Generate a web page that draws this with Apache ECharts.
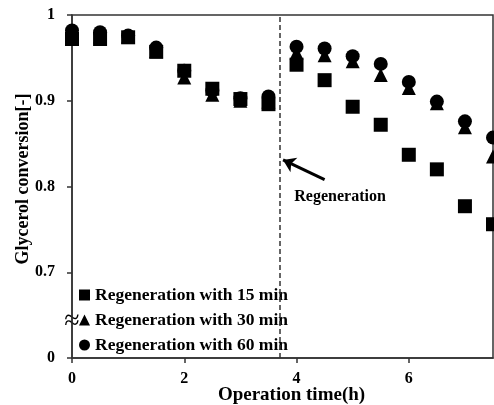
<!DOCTYPE html>
<html>
<head>
<meta charset="utf-8">
<script src="https://cdn.jsdelivr.net/npm/echarts@6/dist/echarts.min.js"></script>
<style>
  html, body { margin: 0; padding: 0; background: #fff; }
  #chart { width: 494px; height: 405px; }
</style>
</head>
<body>
<div id="chart"></div>
<script>
// operation time (h)
const times = [0, 0.5, 1, 1.5, 2, 2.5, 3, 3.5, 4, 4.5, 5, 5.5, 6, 6.5, 7, 7.5]
// glycerol conversion
const regen15 = [0.972, 0.972, 0.974, 0.957, 0.935, 0.914, 0.902, 0.896, 0.942, 0.924, 0.893, 0.872, 0.837, 0.820, 0.777, 0.756]
const regen30 = [0.976, 0.975, 0.975, 0.958, 0.927, 0.907, 0.900, 0.899, 0.956, 0.953, 0.946, 0.930, 0.915, 0.897, 0.869, 0.835]
const regen60 = [0.982, 0.980, 0.976, 0.962, 0.935, 0.912, 0.903, 0.905, 0.963, 0.961, 0.952, 0.943, 0.922, 0.899, 0.876, 0.857]
const regenTime = 3.7
const seriesNames = ['Regeneration with 15 min', 'Regeneration with 30 min', 'Regeneration with 60 min']

const font = '"Liberation Serif", "Times New Roman", serif'
const chart = echarts.init(document.getElementById('chart'))

const pairs = (ys) => times.map((t, i) => [t, ys[i]])

const option = {
  animation: false,
  grid: {
    left: 72, right: 1, top: 15, bottom: 47,
    outerBoundsMode: 'none',
    containLabel: false,
    show: true, borderColor: '#333', borderWidth: 1.5
  },
  legend: {
    orient: 'vertical',
    left: 74,
    top: 281,
    itemGap: 7,
    itemWidth: 11,
    itemHeight: 11,
    textStyle: { fontFamily: font, fontWeight: 'bold', fontSize: 17.5, color: '#000' },
    data: [
      { name: seriesNames[0], icon: 'rect' },
      { name: seriesNames[1], icon: 'triangle' },
      { name: seriesNames[2], icon: 'circle' }
    ]
  },
  xAxis: {
    type: 'value',
    min: 0, max: 7.5, interval: 2,
    name: 'Operation time(h)',
    nameLocation: 'middle',
    nameGap: 28,
    nameMoveOverlap: false,
    nameTextStyle: { fontFamily: font, fontWeight: 'bold', fontSize: 19, color: '#000', padding: [0, 0, 0, 18] },
    axisLine: { lineStyle: { color: '#333', width: 1.5 } },
    axisTick: { show: true, length: 5, lineStyle: { color: '#333', width: 1.5 } },
    axisLabel: { fontFamily: font, fontWeight: 'bold', fontSize: 16, color: '#000', margin: 13, showMaxLabel: false },
    splitLine: { show: false }
  },
  yAxis: {
    type: 'value',
    min: 0.6, max: 1, interval: 0.1,
    name: 'Glycerol conversion[-]',
    nameLocation: 'middle',
    nameGap: 40,
    nameMoveOverlap: false,
    nameTextStyle: { fontFamily: font, fontWeight: 'bold', fontSize: 18, color: '#000', padding: [0, 0, 0, 15] },
    axisLine: { lineStyle: { color: '#333', width: 1.5 } },
    axisTick: { show: true, length: 5, lineStyle: { color: '#333', width: 1.5 } },
    axisLabel: {
      fontFamily: font, fontWeight: 'bold', fontSize: 16, color: '#000', margin: 17,
      formatter: (v) => {
        // broken axis: bottom tick is 0
        if (Math.abs(v - 0.6) < 1e-6) return '0'
        if (Math.abs(v - 1) < 1e-6) return '1'
        return v.toFixed(1)
      }
    },
    splitLine: { show: false }
  },
  series: [
    {
      name: seriesNames[0],
      type: 'scatter',
      symbol: 'rect',
      symbolSize: 14,
      itemStyle: { color: '#000', opacity: 1 },
      data: pairs(regen15),
      markLine: {
        silent: true,
        symbol: 'none',
        label: { show: false },
        lineStyle: { color: '#333', type: [5, 3], width: 1.5 },
        data: [{ xAxis: regenTime }]
      }
    },
    {
      name: seriesNames[1],
      type: 'scatter',
      symbol: 'triangle',
      symbolSize: 14,
      itemStyle: { color: '#000', opacity: 1 },
      data: pairs(regen30),
      markLine: {
        silent: true,
        symbol: ['none', 'arrow'],
        symbolSize: 12,
        label: { show: false },
        lineStyle: { color: '#000', type: 'solid', width: 3 },
        data: [[{ coord: [4.5, 0.808] }, { coord: [3.76, 0.831] }]]
      }
    },
    {
      name: seriesNames[2],
      type: 'scatter',
      symbol: 'circle',
      symbolSize: 14,
      itemStyle: { color: '#000', opacity: 1 },
      data: pairs(regen60)
    }
  ]
}
chart.setOption(option)

// axis break mark and annotation text, placed through the axes
const bp = chart.convertToPixel({ xAxisIndex: 0, yAxisIndex: 0 }, [0, 0.642])
const tp = chart.convertToPixel({ xAxisIndex: 0, yAxisIndex: 0 }, [3.96, 0.788])
chart.setOption({
  graphic: [
    {
      type: 'text',
      x: bp[0],
      y: bp[1],
      style: {
        text: '≈',
        fontSize: 28,
        fontFamily: font,
        fill: '#000',
        align: 'center',
        verticalAlign: 'middle'
      }
    },
    {
      type: 'text',
      x: tp[0],
      y: tp[1],
      style: {
        text: 'Regeneration',
        fontSize: 16,
        fontWeight: 'bold',
        fontFamily: font,
        fill: '#000',
        align: 'left',
        verticalAlign: 'middle'
      }
    }
  ]
})
</script>
</body>
</html>
